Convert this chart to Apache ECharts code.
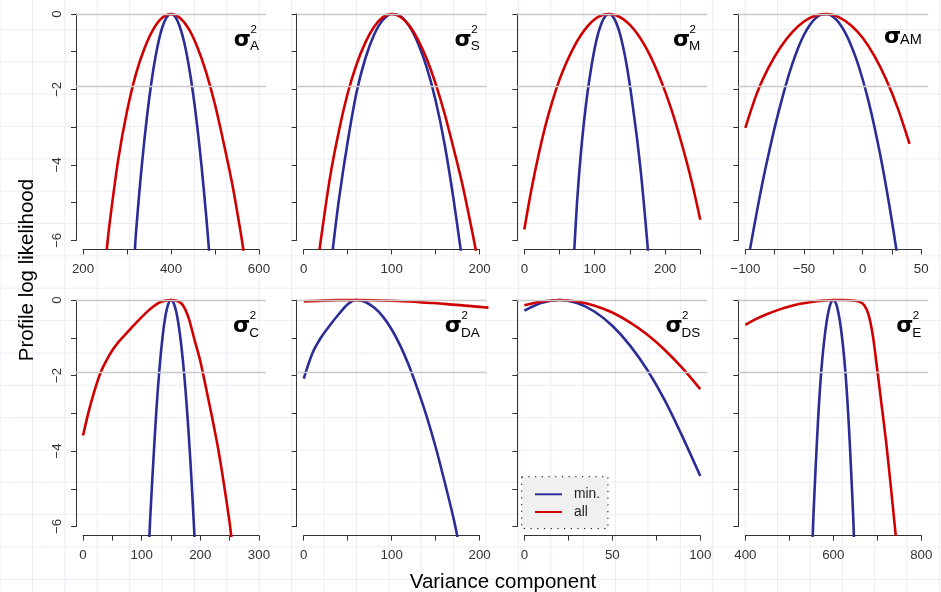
<!DOCTYPE html>
<html><head><meta charset="utf-8">
<script src="https://cdn.jsdelivr.net/npm/echarts@6/dist/echarts.min.js"></script>
<style>
html,body{margin:0;padding:0;background:#fff;}
#bg{position:absolute;left:0;top:0;width:941px;height:592px;
 background-image:linear-gradient(to right,#ececf6 1px,transparent 1px),linear-gradient(to bottom,#ececf6 1px,transparent 1px);
 background-size:32.4px 32.35px;background-position:32px 29px;}
#chart{position:absolute;left:0;top:0;width:941px;height:592px;}
</style></head><body><div id="bg"></div><div id="chart"></div>
<script>
// ---- data (x = variance component, y = profile log likelihood) ----
const A_min = [[318,-6.24],[320,-5.85],[330,-4.46],[340,-3.28],[350,-2.28],[360,-1.46],[370,-0.82],[380,-0.36],[390,-0.09],[400,0],[410,-0.08],[420,-0.34],[430,-0.75],[440,-1.34],[450,-2.09],[460,-3.01],[470,-4.1],[480,-5.35],[488,-6.47]];
const A_all = [[254,-6.24],[260,-5.59],[280,-3.86],[300,-2.58],[320,-1.6],[340,-0.9],[360,-0.4],[380,-0.1],[400,0],[420,-0.1],[440,-0.39],[460,-0.88],[480,-1.55],[500,-2.4],[520,-3.43],[540,-4.55],[560,-5.9],[566,-6.36]];
const S_min = [[33,-6.24],[40,-4.92],[50,-3.38],[60,-2.08],[70,-1.18],[80,-0.55],[90,-0.16],[100,0],[110,-0.06],[120,-0.32],[130,-0.78],[140,-1.43],[150,-2.3],[160,-3.43],[170,-4.86],[179,-6.34]];
const S_all = [[18,-6.24],[20,-5.89],[30,-4.31],[40,-3.1],[50,-2.1],[60,-1.34],[70,-0.76],[80,-0.34],[90,-0.085],[100,0],[110,-0.08],[120,-0.31],[130,-0.69],[140,-1.2],[150,-1.85],[160,-2.63],[170,-3.53],[180,-4.48],[190,-5.59],[196,-6.3]];
const M_min = [[71,-6.24],[75,-4.96],[80,-3.76],[85,-2.82],[90,-2.05],[95,-1.43],[100,-0.91],[105,-0.51],[110,-0.23],[115,-0.06],[120,0],[125,-0.05],[130,-0.21],[135,-0.47],[140,-0.84],[145,-1.31],[150,-1.89],[155,-2.57],[160,-3.28],[165,-4.09],[170,-5.05],[176,-6.33]];
const M_all = [[0,-5.71],[10,-4.66],[20,-3.75],[30,-2.96],[40,-2.3],[50,-1.74],[60,-1.28],[70,-0.89],[80,-0.57],[90,-0.32],[100,-0.14],[110,-0.035],[120,0],[130,-0.032],[140,-0.13],[150,-0.29],[160,-0.51],[170,-0.8],[180,-1.15],[190,-1.57],[200,-2.05],[210,-2.59],[220,-3.2],[230,-3.87],[240,-4.61],[250,-5.45]];
const AM_min = [[-96,-6.23],[-90,-5.21],[-85,-4.41],[-80,-3.69],[-75,-3.01],[-70,-2.4],[-65,-1.83],[-60,-1.33],[-55,-0.9],[-50,-0.55],[-45,-0.29],[-40,-0.11],[-35,-0.015],[-30,-0.007],[-25,-0.08],[-20,-0.24],[-15,-0.49],[-10,-0.82],[-5,-1.23],[0,-1.73],[5,-2.31],[10,-2.98],[15,-3.73],[20,-4.57],[25,-5.49],[29,-6.29]];
const AM_all = [[-100,-3.02],[-90,-2.09],[-80,-1.41],[-70,-0.88],[-60,-0.48],[-50,-0.2],[-40,-0.04],[-30,-0.003],[-20,-0.09],[-10,-0.3],[0,-0.63],[10,-1.11],[20,-1.73],[30,-2.5],[40,-3.44]];
const C_min = [[113,-6.3],[115,-5.64],[120,-4.23],[125,-2.94],[130,-1.88],[135,-1.06],[140,-0.47],[145,-0.12],[150,0],[155,-0.1],[160,-0.39],[165,-0.88],[170,-1.56],[175,-2.44],[180,-3.51],[185,-4.78],[190,-6.24],[191,-6.5]];
const C_all = [[0,-3.59],[10,-2.93],[20,-2.38],[30,-1.92],[40,-1.6],[50,-1.33],[60,-1.12],[70,-0.95],[80,-0.78],[90,-0.61],[100,-0.45],[110,-0.3],[120,-0.17],[130,-0.07],[140,-0.015],[150,0],[160,-0.02],[170,-0.13],[180,-0.47],[190,-1.05],[200,-1.62],[210,-2.35],[220,-3.1],[230,-3.9],[240,-4.85],[250,-5.9],[253,-6.3]];
const DA_min = [[0,-2.08],[10,-1.4],[20,-0.98],[30,-0.66],[40,-0.37],[50,-0.11],[60,0],[70,-0.05],[80,-0.2],[90,-0.44],[100,-0.78],[110,-1.22],[120,-1.76],[130,-2.4],[140,-3.1],[150,-3.9],[160,-4.8],[170,-5.75],[175,-6.3]];
const DA_all = [[0,-0.04],[20,-0.015],[40,-0.003],[60,0],[80,-0.005],[100,-0.02],[120,-0.04],[140,-0.07],[160,-0.1],[180,-0.14],[200,-0.18],[210,-0.2]];
const DS_min = [[0,-0.28],[10,-0.07],[20,0],[30,-0.08],[40,-0.31],[50,-0.68],[60,-1.2],[70,-1.86],[80,-2.67],[90,-3.63],[100,-4.66]];
const DS_all = [[0,-0.14],[10,-0.04],[20,0],[30,-0.04],[40,-0.15],[50,-0.33],[60,-0.59],[70,-0.92],[80,-1.33],[90,-1.81],[100,-2.36]];
const E_min = [[553,-6.3],[555,-5.67],[560,-4.4],[565,-3.25],[570,-2.3],[575,-1.56],[580,-1.0],[585,-0.56],[590,-0.25],[595,-0.06],[600,0],[605,-0.06],[610,-0.25],[615,-0.56],[620,-1.0],[625,-1.56],[630,-2.3],[635,-3.25],[640,-4.4],[645,-5.67],[647,-6.3]];
const E_all = [[400,-0.66],[425,-0.5],[450,-0.37],[475,-0.26],[500,-0.17],[525,-0.1],[550,-0.05],[575,-0.015],[600,0],[625,0],[650,-0.02],[660,-0.05],[670,-0.13],[680,-0.38],[690,-0.95],[700,-1.85],[710,-2.8],[720,-3.75],[730,-4.85],[742,-6.24]];

// tick values and labelled ticks
const A_ticks = [200,300,400,500,600],  A_labels = [200,400,600];
const S_ticks = [0,50,100,150,200],     S_labels = [0,100,200];
const M_ticks = [0,50,100,150,200,250], M_labels = [0,100,200];
const AM_ticks = [-100,-75,-50,-25,0,25,50], AM_labels = [-100,-50,0,50];
const C_ticks = [0,50,100,150,200,250,300], C_labels = [0,100,200,300];
const DA_ticks = [0,50,100,150,200],    DA_labels = [0,100,200];
const DS_ticks = [0,25,50,75,100],      DS_labels = [0,50,100];
const E_ticks = [400,500,600,700,800],  E_labels = [400,600,800];
const yTicks = [0,-1,-2,-3,-4,-5,-6], yLabels = [0,-2,-4,-6];
const refLevels = [0, -1.92];
const seriesNames = ['min.', 'all'];
const panelSubs = ['A','S','M','AM','C','DA','DS','E'];
const panelSup  = [true,true,true,false,true,true,true,true];

const panels = [
 {min:A_min, all:A_all, ticks:A_ticks, labels:A_labels},
 {min:S_min, all:S_all, ticks:S_ticks, labels:S_labels},
 {min:M_min, all:M_all, ticks:M_ticks, labels:M_labels},
 {min:AM_min, all:AM_all, ticks:AM_ticks, labels:AM_labels},
 {min:C_min, all:C_all, ticks:C_ticks, labels:C_labels},
 {min:DA_min, all:DA_all, ticks:DA_ticks, labels:DA_labels},
 {min:DS_min, all:DS_all, ticks:DS_ticks, labels:DS_labels},
 {min:E_min, all:E_all, ticks:E_ticks, labels:E_labels}
];

// ---- layout ----
const colLeft = [76, 296.7, 517.3, 738.3], plotW = 190;
const rowTop = [4.9, 291], plotH = 244.6;
const yLo = -6.24, yHi = 0.24;
const axisCol = '#333', labCol = '#333';
const FONT = '"Liberation Sans", Arial, sans-serif';
const BLUE = '#2b2d96', RED = '#d10000';

const measure = (() => { const c = document.createElement('canvas').getContext('2d');
  return (t, f) => { c.font = f; return c.measureText(t).width; }; })();
const fmt = v => (v < 0 ? '\u2212' + Math.abs(v) : String(v));
const txt = (x, y, text, size, align, extra) => Object.assign({type: 'text', x: x, y: y, silent: true,
  style: Object.assign({text: text, fontSize: size, fontFamily: FONT, fill: '#000', align: align, verticalAlign: 'middle'}, extra || {})});

const grids = [], xAxes = [], yAxes = [], series = [], graphics = [];
panels.forEach((p, i) => {
  const r = Math.floor(i / 4), c = i % 4;
  const L = colLeft[c], T = rowTop[r];
  const t0 = p.ticks[0], t1 = p.ticks[p.ticks.length - 1];
  const pad = (t1 - t0) * 0.04;
  const xlo = t0 - pad, xhi = t1 + pad;
  const sx = plotW / (xhi - xlo), sy = plotH / (yHi - yLo);
  const g = grids.length;
  const base = {containLabel: false, outerBoundsMode: 'none'};
  grids.push(Object.assign({left: L, top: T, width: plotW, height: plotH}, base));
  xAxes.push({gridIndex: g, type: 'value', min: xlo, max: xhi, show: false});
  yAxes.push({gridIndex: g, type: 'value', min: yLo, max: yHi, show: false});
  grids.push(Object.assign({left: L + (t0 - xlo) * sx, top: T, width: (t1 - t0) * sx, height: plotH}, base));
  xAxes.push({gridIndex: g + 1, type: 'value', min: t0, max: t1, interval: p.ticks[1] - p.ticks[0],
    axisLine: {show: true, onZero: false, lineStyle: {color: axisCol, width: 1}},
    axisTick: {show: true, inside: false, length: 5, lineStyle: {color: axisCol, width: 1}},
    splitLine: {show: false},
    axisLabel: {show: true, margin: 13, color: labCol, fontSize: 13.3, fontFamily: FONT,
      formatter: v => (p.labels.indexOf(v) >= 0 ? fmt(v) : '')}});
  yAxes.push({gridIndex: g + 1, type: 'value', show: false});
  grids.push(Object.assign({left: L, top: T + yHi * sy, width: plotW, height: 6 * sy}, base));
  xAxes.push({gridIndex: g + 2, type: 'value', show: false});
  yAxes.push({gridIndex: g + 2, type: 'value', min: yTicks[yTicks.length - 1], max: yTicks[0], interval: 1,
    axisLine: {show: true, onZero: false, lineStyle: {color: axisCol, width: 1}},
    axisTick: {show: true, inside: false, length: 5, lineStyle: {color: axisCol, width: 1}},
    splitLine: {show: false},
    axisLabel: {show: c === 0, rotate: 90, margin: 12, color: labCol, fontSize: 13.3, fontFamily: FONT,
      formatter: v => (yLabels.indexOf(v) >= 0 ? fmt(v) : '')}});
  series.push({type: 'line', name: 'ref', xAxisIndex: g, yAxisIndex: g, data: [], z: 1, silent: true,
    markLine: {silent: true, symbol: 'none', label: {show: false}, animation: false,
      lineStyle: {color: '#c9c9c9', width: 1.3, type: 'solid'},
      data: refLevels.map(v => ({yAxis: v}))}});
  [[p.min, BLUE, seriesNames[0]], [p.all, RED, seriesNames[1]]].forEach(([d, col, nm]) => {
    series.push({type: 'line', name: nm, xAxisIndex: g, yAxisIndex: g, data: d, z: 3,
      symbol: 'none', smooth: 0.3, clip: true, silent: true,
      lineStyle: {color: col, width: 2.6}, itemStyle: {color: col}});
  });
  const R = L + plotW - 7;
  const sub = panelSubs[i];
  const sig = {fontFamily: '"DejaVu Sans", sans-serif', fontWeight: 'bold'};
  if (panelSup[i]) {
    const sw = measure(sub, '13.5px "Liberation Sans"');
    graphics.push(txt(R, T + 41.8, sub, 13.5, 'right'));
    graphics.push(txt(R - sw + 0.5, T + 25.2, '2', 11.5, 'left'));
    graphics.push(txt(R - sw + 1, T + 35.3, 'σ', 22, 'right', sig));
  } else {
    const sw = measure(sub, '14.5px "Liberation Sans"');
    graphics.push(txt(R + 0.5, T + 35, sub, 14.5, 'right'));
    graphics.push(txt(R - sw + 1.5, T + 32.5, 'σ', 22, 'right', sig));
  }
});

graphics.push(Object.assign(txt(27.8, 270, 'Profile log likelihood', 20.5, 'center'), {rotation: Math.PI / 2}));
graphics.push(txt(503, 582.5, 'Variance component', 20.5, 'center'));

const chart = echarts.init(document.getElementById('chart'), null, {renderer: 'canvas'});
chart.setOption({
  animation: false,
  backgroundColor: 'transparent',
  grid: grids, xAxis: xAxes, yAxis: yAxes, series: series,
  legend: {data: seriesNames, orient: 'vertical', left: 521.7, top: 476.7,
    padding: [10.6, 7.9, 9.6, 13.3], itemGap: 3.7, itemWidth: 27, itemHeight: 2, icon: 'rect',
    backgroundColor: '#f0f0f0', borderColor: '#000', borderWidth: 1, borderType: [1.2, 5.5],
    borderRadius: 0, selectedMode: false,
    textStyle: {color: '#222', fontSize: 13.8, lineHeight: 14, fontFamily: FONT, padding: [0, 0, 0, 7]}},
  graphic: graphics
});
</script></body></html>
